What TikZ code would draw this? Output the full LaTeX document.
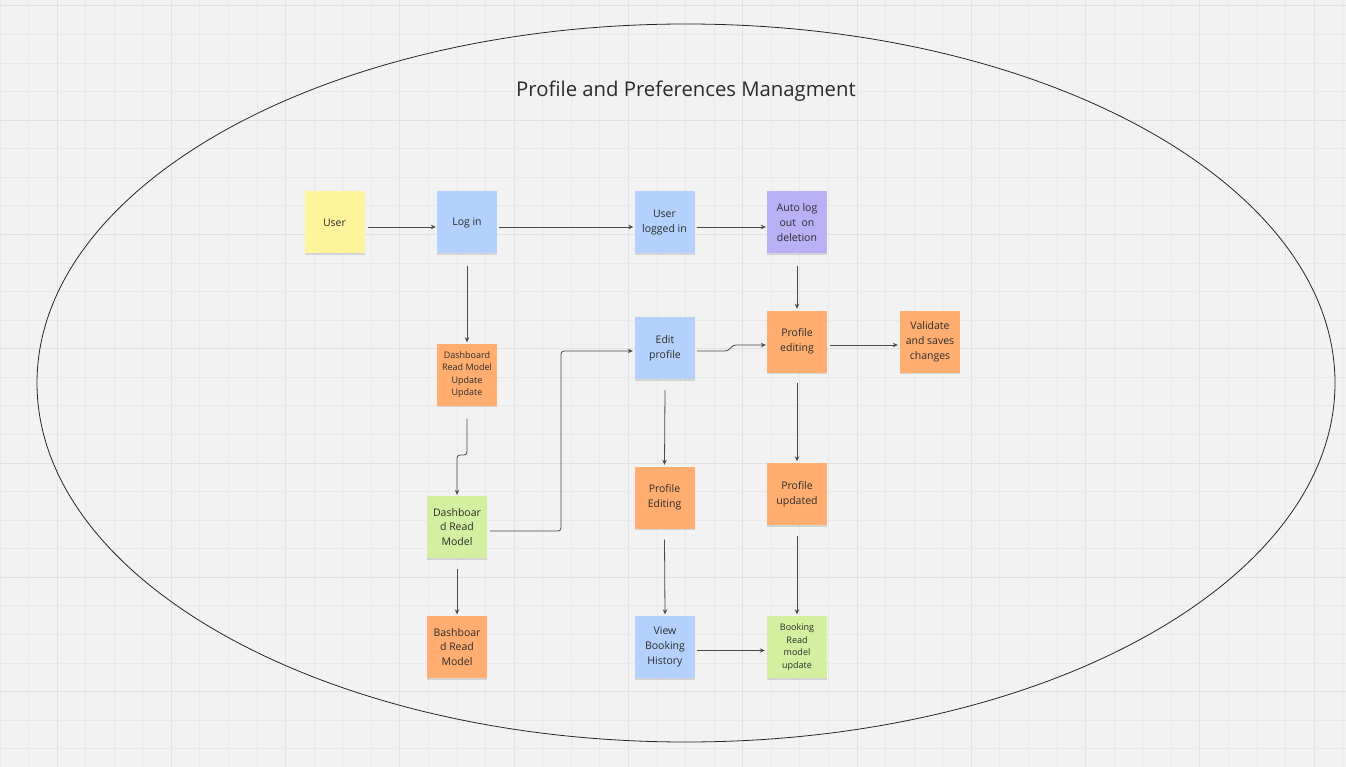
\documentclass[tikz,border=0pt]{standalone}
\usepackage{fontspec}
\setmainfont{Open Sans}
\usetikzlibrary{arrows.meta,shadows}
\definecolor{bg}{HTML}{F2F2F2}
\definecolor{gridminor}{HTML}{E8E8E8}
\definecolor{gridmajor}{HTML}{E1E1E1}
\definecolor{noteyellow}{HTML}{FEF49C}
\definecolor{noteblue}{HTML}{B3D1FC}
\definecolor{notepurple}{HTML}{B9B0F6}
\definecolor{noteorange}{HTML}{FFAE70}
\definecolor{notegreen}{HTML}{D3F0A0}
\definecolor{linegray}{HTML}{4A4A4A}
\definecolor{textgray}{HTML}{2B2B2B}
\tikzset{
  note/.style={rectangle, minimum width=60pt, minimum height=62pt, inner sep=0pt,
    align=center, font=\fontsize{10.5}{14.8}\selectfont, text=textgray,
    drop shadow={shadow xshift=0pt, shadow yshift=-1.5pt, opacity=0.12, fill=black}},
  yellownote/.style={note, fill=noteyellow},
  bluenote/.style={note, fill=noteblue},
  purplenote/.style={note, fill=notepurple},
  orangenote/.style={note, fill=noteorange},
  greennote/.style={note, fill=notegreen},
  smalltext/.style={font=\fontsize{9}{12.5}\selectfont},
  conn/.style={draw=linegray, line width=0.8pt, rounded corners=3pt,
    -{Stealth[length=5pt,width=4.5pt]}},
}
\begin{document}
\begin{tikzpicture}[x=1pt,y=-1pt]
\fill[bg] (0,0) rectangle (1346,767);
\useasboundingbox (0,0) rectangle (1346,767);
% grid
\foreach \k in {0,...,47} {
  \pgfmathsetmacro{\gx}{28.571*\k}
  \pgfmathtruncatemacro{\m}{mod(\k,4)}
  \ifnum\m=2
    \draw[gridmajor, line width=1pt] (\gx,0) -- (\gx,767);
  \else
    \draw[gridminor, line width=1pt] (\gx,0) -- (\gx,767);
  \fi
}
\foreach \k in {0,...,27} {
  \pgfmathsetmacro{\gy}{6+28.571*\k}
  \pgfmathtruncatemacro{\m}{mod(\k,4)}
  \ifnum\m=0
    \draw[gridmajor, line width=1pt] (0,\gy) -- (1346,\gy);
  \else
    \draw[gridminor, line width=1pt] (0,\gy) -- (1346,\gy);
  \fi
}
% frame ellipse
\draw[black!85, line width=0.8pt] (686,383) ellipse [x radius=649, y radius=359];
\node[text=textgray, font=\fontsize{20.3}{23}\selectfont] (title) at (686,91) {Profile and Preferences Managment};
% notes
\node[yellownote] (user) at (334.5,222.5) {User};
\node[bluenote] (login) at (467,222.5) {Log in};
\node[bluenote] (logged) at (664.5,222.5) {User\\logged in};
\node[purplenote] (autolog) at (797,222.5) {Auto log\\out\ \ on\\deletion};
\node[orangenote, smalltext] (dbrmuu) at (467,374.5) {Dashboard\\Read Model\\Update\\Update};
\node[bluenote] (editp) at (665,348) {Edit\\profile};
\node[orangenote] (pediting) at (797,341.5) {Profile\\editing};
\node[orangenote] (validate) at (930,341.5) {Validate\\and saves\\changes};
\node[greennote] (dbrm) at (457,527) {Dashboar\\d Read\\Model};
\node[orangenote] (pEditing) at (664.5,497.5) {Profile\\Editing};
\node[orangenote] (pupdated) at (797,494) {Profile\\updated};
\node[orangenote] (bbrm) at (457,647) {Bashboar\\d Read\\Model};
\node[bluenote] (vbh) at (665,647) {View\\Booking\\History};
\node[greennote, smalltext] (brmu) at (797,647) {Booking\\Read\\model\\update};
% connectors
\draw[conn] ([xshift=3pt,yshift=-4.5pt]user.east) -- ([xshift=-1pt,yshift=-4.5pt]login.west);
\draw[conn] ([xshift=2pt,yshift=-4.5pt]login.east) -- ([xshift=-1pt,yshift=-4.5pt]logged.west);
\draw[conn] ([xshift=2pt,yshift=-4.5pt]logged.east) -- ([xshift=-1pt,yshift=-4.5pt]autolog.west);
\draw[conn] ([yshift=-12pt]login.south) -- ([yshift=1pt]dbrmuu.north);
\draw[conn] ([yshift=-13pt]dbrmuu.south) -- (467,455) -- (457,455) -- ([yshift=1pt]dbrm.north);
\draw[conn] ([xshift=3pt,yshift=-4pt]dbrm.east) -- (561,531) -- (561,351) -- ([xshift=-2pt,yshift=-3pt]editp.west);
\draw[conn] ([xshift=2pt,yshift=-3pt]editp.east) -- (728,351) -- (733,345) -- ([xshift=-1pt,yshift=-3.5pt]pediting.west);
\draw[conn] ([yshift=-12pt]autolog.south) -- ([yshift=1.5pt]pediting.north);
\draw[conn] ([xshift=3pt,yshift=-3.5pt]pediting.east) -- ([xshift=-2pt,yshift=-3.5pt]validate.west);
\draw[conn] ([yshift=-11pt]editp.south) -- ([yshift=1.5pt]pEditing.north);
\draw[conn] ([yshift=-10pt]pediting.south) -- ([yshift=1.5pt]pupdated.north);
\draw[conn] ([yshift=-11pt]pEditing.south) -- ([yshift=1.5pt]vbh.north);
\draw[conn] ([yshift=-11pt]pupdated.south) -- ([yshift=1.5pt]brmu.north);
\draw[conn] ([yshift=-11pt]dbrm.south) -- ([yshift=1.5pt]bbrm.north);
\draw[conn] ([xshift=2pt,yshift=-3.5pt]vbh.east) -- ([xshift=-2pt,yshift=-3.5pt]brmu.west);
\end{tikzpicture}
\end{document}
